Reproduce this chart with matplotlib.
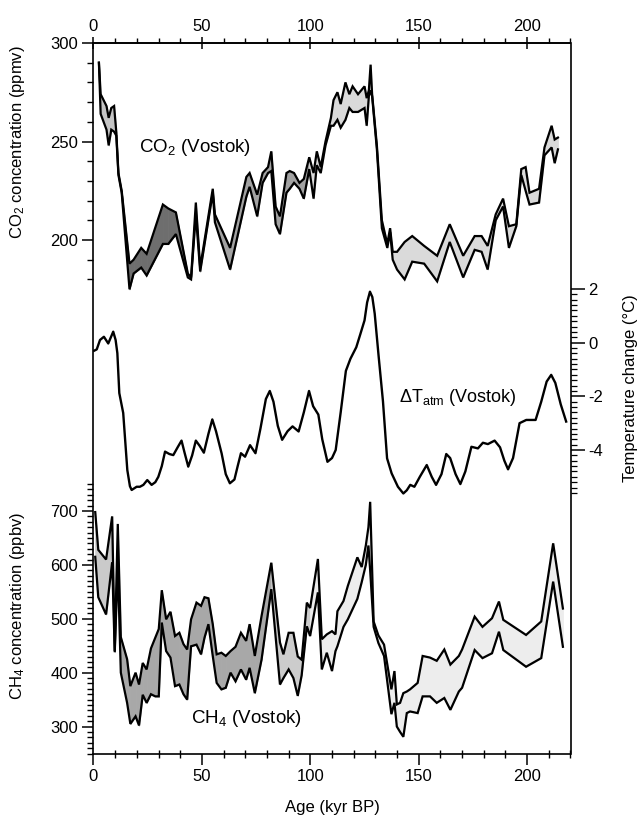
import numpy as np
import matplotlib
matplotlib.use('Agg')
import matplotlib.pyplot as plt
from matplotlib.ticker import FixedLocator, MultipleLocator

plt.rcParams['font.family'] = ['Liberation Sans', 'DejaVu Sans']
plt.rcParams['mathtext.fontset'] = 'custom'
plt.rcParams['mathtext.rm'] = 'Liberation Sans'
plt.rcParams['mathtext.it'] = 'Liberation Sans:italic'
plt.rcParams['mathtext.bf'] = 'Liberation Sans:bold'
plt.rcParams['axes.unicode_minus'] = False

# ---------------- data ----------------
co2_age = [2.5, 3.3, 6.0, 7.0, 8.2, 9.5, 10.5, 11.5, 13.0, 16.6, 18.5, 22.0, 24.5,
           32.0, 34.5, 38.0, 43.5, 45.0, 47.2, 49.2, 55.0, 56.0, 63.0, 70.5, 72.0,
           75.5, 78.0, 80.5, 82.0, 84.0, 86.0, 89.0, 90.5, 92.5, 95.0, 97.0, 99.5,
           101.5, 103.0, 104.8, 107.0, 109.5, 110.7, 112.5, 114.0, 116.2, 118.0,
           119.5, 122.0, 125.0, 126.0, 127.0, 127.8, 128.5, 130.7, 133.0, 135.5,
           136.8, 138.0, 140.0, 143.5, 147.0, 152.5, 158.5, 164.3, 170.5, 175.8,
           179.0, 181.8, 185.5, 188.9, 191.6, 195.0, 197.3, 199.3, 201.1, 205.5,
           208.0, 211.3, 212.7, 214.2]
co2_upper = [290, 274, 268, 262, 267, 268, 255, 234, 225, 188, 190, 196, 193,
             218, 216, 214, 183, 181, 219, 186, 226, 213, 196, 232, 234,
             223, 234, 237, 245, 217, 212, 234, 235, 234, 229, 231, 242,
             234, 245, 237, 250, 262, 271, 275, 269, 280, 274,
             278, 274, 278, 272, 276, 289, 274, 248, 210, 198,
             206, 194, 194, 199, 202, 197, 192, 208, 192, 202,
             202, 197, 213, 221, 207, 208, 236, 237, 224, 226,
             247, 258, 251, 252]
co2_lower = [290, 264, 256, 248, 256, 255, 253, 233, 224, 175, 183, 186, 182,
             198, 198, 203, 181, 180, 213, 184, 224, 209, 185, 222, 227,
             212, 229, 234, 235, 208, 203, 224, 226, 229, 226, 221, 236,
             221, 238, 234, 248, 258, 258, 261, 257, 261, 267,
             265, 265, 267, 258, 273, 276, 273, 246, 206, 196,
             204, 190, 185, 180, 189, 188, 179, 199, 181, 195,
             194, 185, 210, 217, 196, 207, 233, 225, 218, 219,
             243, 247, 239, 246]

temp_age = [0.3, 1.5, 3.0, 4.8, 6.8, 9.1, 10.2, 11.0, 11.9, 13.7, 15.6, 16.8, 17.6,
            19.9, 21.4, 23.0, 24.8, 26.8, 28.5, 29.9, 31.5, 33.0, 35.0, 36.8, 38.8,
            40.6, 42.0, 43.7, 45.5, 47.2, 49.0, 50.9, 53.0, 54.8, 56.5, 59.1, 61.0,
            62.9, 65.0, 66.5, 68.0, 69.9, 72.2, 74.7, 77.0, 79.5, 81.3, 83.0, 85.0,
            87.0, 89.5, 91.8, 94.6, 97.0, 99.4, 101.3, 103.7, 105.5, 107.9, 110.0,
            111.7, 114.0, 116.4, 118.5, 121.2, 123.0, 125.0, 126.2, 127.5, 128.6,
            129.7, 131.5, 133.5, 135.4, 137.5, 140.4, 142.9, 144.5, 146.1, 148.0,
            150.5, 153.7, 156.0, 158.0, 160.5, 162.7, 164.5, 167.0, 169.2, 171.5,
            174.3, 177.3, 179.6, 181.9, 185.0, 187.5, 189.5, 191.2, 193.5, 196.5,
            199.6, 203.9, 206.5, 209.0, 211.1, 213.0, 215.5, 218.0]
temp_change = [-0.3, -0.25, 0.1, 0.22, -0.03, 0.41, 0.1, -0.39, -1.88, -2.62, -4.75, -5.35, -5.49,
               -5.37, -5.37, -5.3, -5.12, -5.3, -5.2, -5.0, -4.6, -4.06, -4.15, -4.19, -3.9,
               -3.65, -4.1, -4.62, -4.2, -3.65, -3.85, -4.1, -3.4, -2.86, -3.3, -4.13, -4.9,
               -5.24, -5.1, -4.6, -4.12, -4.25, -3.82, -4.12, -3.2, -2.1, -1.8, -2.2, -3.1,
               -3.62, -3.3, -3.12, -3.31, -2.6, -1.8, -2.37, -2.68, -3.6, -4.44, -4.3,
               -4.0, -2.6, -1.05, -0.6, -0.17, 0.3, 0.83, 1.5, 1.9, 1.7,
               1.08, -0.5, -2.18, -4.31, -4.87, -5.37, -5.62, -5.5, -5.3, -5.37,
               -5.0, -4.56, -5.0, -5.3, -4.9, -4.15, -4.3, -4.9, -5.27, -4.8,
               -3.88, -3.94, -3.73, -3.78, -3.65, -3.9, -4.4, -4.72, -4.3, -3.0,
               -2.88, -2.88, -2.2, -1.45, -1.2, -1.5, -2.3, -2.94]

ch4_age = [0.8, 2.2, 5.8, 8.6, 9.8, 11.2, 12.6, 15.5, 17.0, 19.4, 21.0, 22.7, 24.5,
           26.5, 28.5, 30.1, 31.5, 33.5, 35.5, 37.6, 39.6, 41.5, 43.2, 45.0, 47.5,
           49.6, 51.2, 53.0, 55.0, 56.8, 59.0, 61.0, 63.2, 65.5, 68.0, 70.4, 72.0,
           74.4, 77.5, 82.0, 86.0, 87.6, 90.0, 92.2, 94.2, 96.0, 98.4, 99.9, 103.5,
           105.3, 107.6, 110.0, 111.6, 112.5, 115.3, 117.3, 121.7, 123.7, 125.6,
           126.8, 127.6, 129.2, 131.4, 134.0, 137.4, 138.8, 139.9, 141.4, 142.9,
           144.5, 146.0, 149.5, 151.8, 155.2, 158.3, 161.8, 164.6, 168.5, 170.0,
           175.8, 179.4, 183.8, 187.0, 189.0, 199.5, 206.5, 212.0, 216.5]
ch4_upper = [698, 628, 610, 690, 440, 676, 466, 425, 375, 400, 378, 418, 406,
             445, 465, 481, 553, 499, 513, 468, 474, 453, 443, 499, 530,
             524, 540, 538, 490, 434, 437, 431, 440, 448, 474, 459, 490,
             431, 505, 604, 456, 434, 474, 474, 430, 424, 530, 520, 611,
             462, 471, 477, 471, 514, 533, 561, 614, 596, 636,
             670, 717, 495, 469, 452, 369, 403, 341, 344, 362,
             365, 369, 381, 431, 428, 422, 443, 415, 431, 443,
             504, 485, 501, 532, 498, 470, 495, 640, 519]
ch4_lower = [615, 540, 508, 605, 438, 600, 400, 344, 305, 319, 302, 359, 344,
             360, 356, 356, 493, 440, 428, 375, 378, 360, 350, 449, 452,
             434, 465, 490, 431, 381, 369, 372, 400, 384, 406, 387, 409,
             362, 424, 555, 378, 390, 406, 390, 357, 395, 486, 468, 549,
             406, 437, 403, 440, 449, 485, 499, 537, 568, 600,
             636, 590, 485, 455, 431, 323, 344, 300, 290, 281,
             325, 328, 325, 356, 356, 344, 353, 331, 365, 372,
             442, 427, 436, 476, 442, 411, 427, 569, 448]

age_ticks = [0, 50, 100, 150, 200]
co2_ticks = [200, 250, 300]
temp_ticks = [2, 0, -2, -4]
ch4_ticks = [300, 400, 500, 600, 700]

# ---------------- layout ----------------
W, H = 642, 817
fig = plt.figure(figsize=(W / 100, H / 100), dpi=100)
left_px, right_px, top_px, bot_px = 93.5, 570.5, 43.0, 753.5
pos = [left_px / W, 1 - bot_px / H, (right_px - left_px) / W, (bot_px - top_px) / H]
XLIM = (0, 220)
TICK_FS = 12

ax = fig.add_axes(pos)
ax.set_xlim(*XLIM)
ax.set_ylim(0, 1)
ax.set_yticks([])
for s in ax.spines.values():
    s.set_linewidth(1.2)
ax.xaxis.set_major_locator(FixedLocator(age_ticks))
ax.xaxis.set_minor_locator(MultipleLocator(10))
ax.tick_params(axis='x', which='major', direction='out', length=8, width=1.1,
               labelsize=TICK_FS, pad=3)
ax.tick_params(axis='x', which='minor', direction='inout', length=6, width=1.0)
ax.set_xlabel('Age (kyr BP)', fontsize=12, labelpad=12)

sec = ax.secondary_xaxis('top')
sec.set_xticks(age_ticks)
sec.xaxis.set_minor_locator(MultipleLocator(10))
sec.tick_params(which='major', direction='inout', length=9, width=1.1, labelsize=TICK_FS, pad=2)
sec.tick_params(which='minor', direction='out', length=3.5, width=1.0)
sec.spines['top'].set_linewidth(1.2)


def overlay(ylim):
    a = fig.add_axes(pos)
    a.set_xlim(*XLIM)
    a.set_ylim(*ylim)
    a.patch.set_visible(False)
    for s in a.spines.values():
        s.set_visible(False)
    a.tick_params(axis='x', which='both', bottom=False, top=False,
                  labelbottom=False, labeltop=False)
    return a


def shade_fill(a, xs, lo, hi, shade_fn):
    for i in range(len(xs) - 1):
        mid = 0.5 * (xs[i] + xs[i + 1])
        c = shade_fn(mid)
        a.fill_between(xs[i:i + 2], lo[i:i + 2], hi[i:i + 2],
                       facecolor=c, edgecolor=c, lw=0.6, zorder=1)


# CO2 axes (300 at top edge, 200 at y=240 px)
co2_per_px = 100 / 197.0
ax_co2 = overlay((300 - (bot_px - top_px) * co2_per_px, 300))
ax_co2.yaxis.set_major_locator(FixedLocator(co2_ticks))
ax_co2.yaxis.set_minor_locator(FixedLocator(np.arange(180, 301, 10)))
ax_co2.tick_params(axis='y', which='major', direction='out', length=8, width=1.1,
                   labelsize=TICK_FS, pad=3)
ax_co2.tick_params(axis='y', which='minor', direction='out', length=4, width=1.0)


def co2_shade(a):
    if a < 13:
        return '#c4c4c4'
    if a < 45:
        return '#6e6e6e'
    if a < 100:
        return '#a2a2a2'
    return '#dadada'


shade_fill(ax_co2, co2_age, co2_lower, co2_upper, co2_shade)
ax_co2.plot(co2_age, co2_upper, color='black', lw=1.6, zorder=3, solid_joinstyle='miter')
ax_co2.plot(co2_age, co2_lower, color='black', lw=1.6, zorder=3, solid_joinstyle='miter')
ax_co2.text(21.2, 247, 'CO$_\\mathregular{2}$ (Vostok)', fontsize=13.5, va='center', ha='left')

# Temperature axes (2 at y=289 px, -4 at y=450 px)
t_per_px = 6 / 161.0
ax_t = overlay((2 - (bot_px - 289) * t_per_px, 2 + (289 - top_px) * t_per_px))
ax_t.yaxis.tick_right()
ax_t.yaxis.set_major_locator(FixedLocator(temp_ticks))
ax_t.yaxis.set_minor_locator(FixedLocator(np.arange(-5.6, 2.01, 0.2)))
ax_t.tick_params(axis='y', which='major', direction='out', length=10, width=1.1,
                 labelsize=TICK_FS, pad=3, left=False, right=True)
ax_t.tick_params(axis='y', which='minor', direction='out', length=4, width=0.9,
                 left=False, right=True)
ax_t.plot(temp_age, temp_change, color='black', lw=1.7, zorder=3, solid_joinstyle='round')
ax_t.text(141, -2.05, '$\\mathregular{\\Delta T_{atm}}$ (Vostok)', fontsize=13,
          va='center', ha='left')

# CH4 axes (250 at bottom edge, 700 at y=511 px)
ch4_per_px = 450 / (bot_px - 511.0)
ax_ch4 = overlay((250, 250 + (bot_px - top_px) * ch4_per_px))
ax_ch4.yaxis.set_major_locator(FixedLocator(ch4_ticks))
ax_ch4.yaxis.set_minor_locator(FixedLocator(np.arange(250, 751, 10)))
ax_ch4.tick_params(axis='y', which='major', direction='out', length=8, width=1.1,
                   labelsize=TICK_FS, pad=3)
ax_ch4.tick_params(axis='y', which='minor', direction='out', length=4, width=1.0)


def ch4_shade(a):
    if a < 13:
        return '#cacaca'
    if a < 80:
        return '#a8a8a8'
    if a < 100:
        return '#cccccc'
    return '#ededed'


shade_fill(ax_ch4, ch4_age, ch4_lower, ch4_upper, ch4_shade)
ax_ch4.plot(ch4_age, ch4_upper, color='black', lw=1.6, zorder=3, solid_joinstyle='miter')
ax_ch4.plot(ch4_age, ch4_lower, color='black', lw=1.6, zorder=3, solid_joinstyle='miter')
ax_ch4.text(45, 315, 'CH$_\\mathregular{4}$ (Vostok)', fontsize=13.5, va='center', ha='left')

# axis titles
fig.text(18 / W, 1 - 142 / H, 'CO$_\\mathregular{2}$ concentration (ppmv)', rotation=90,
         ha='center', va='center', fontsize=12)
fig.text(18 / W, 1 - 606 / H, 'CH$_\\mathregular{4}$ concentration (ppbv)', rotation=90,
         ha='center', va='center', fontsize=12)
fig.text(631 / W, 1 - 388 / H, 'Temperature change (\u00b0C)', rotation=90,
         ha='center', va='center', fontsize=12)

fig.savefig('out.png', dpi=100)
